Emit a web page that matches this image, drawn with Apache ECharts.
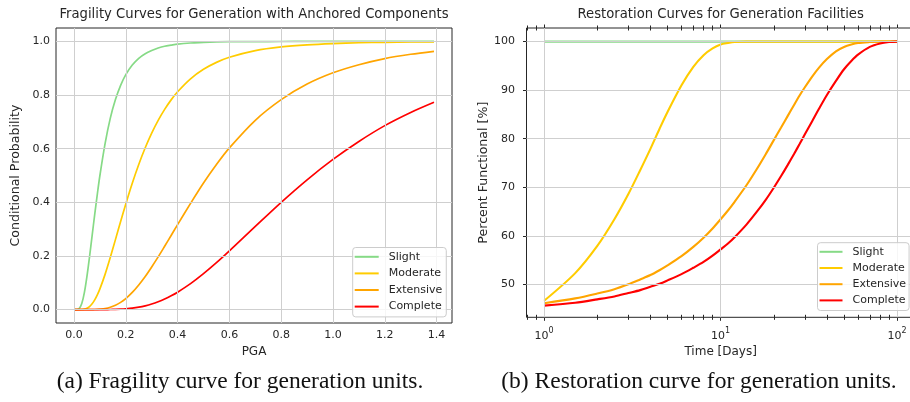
<!DOCTYPE html>
<html>
<head>
<meta charset="utf-8">
<script src="https://cdn.jsdelivr.net/npm/echarts@6/dist/echarts.min.js"></script>
<style>
  html, body { margin: 0; padding: 0; background: #ffffff; }
  #chart { width: 910px; height: 402px; }
</style>
</head>
<body>
<div id="chart"></div>
<script>
// Fragility of generation facilities with anchored components:
// probability of reaching each damage state against peak ground acceleration (g).
const pga = [0, 0.01, 0.02, 0.03, 0.04, 0.05, 0.06, 0.07, 0.08, 0.09, 0.10, 0.12, 0.14, 0.16, 0.18, 0.20,
  0.225, 0.25, 0.275, 0.30, 0.325, 0.35, 0.375, 0.40, 0.45, 0.50, 0.55, 0.60, 0.70, 0.80, 0.90, 1.00, 1.10, 1.20, 1.30, 1.39];
const slightProb = [0, 0.0001, 0.0037, 0.0224, 0.0634, 0.124, 0.197, 0.276, 0.355, 0.430, 0.500, 0.619, 0.713, 0.783, 0.836, 0.876,
  0.9117, 0.937, 0.9541, 0.966, 0.9753, 0.982, 0.9862, 0.990, 0.994, 0.996, 0.998, 0.999, 0.9994, 0.9997, 0.9999, 1.000, 1.000, 1.000, 1.000, 1.000];
const moderateProb = [0, 0, 0, 0.0003, 0.0016, 0.0050, 0.0114, 0.0218, 0.0363, 0.0549, 0.0772, 0.1313, 0.1940, 0.2609, 0.3284, 0.3941,
  0.4711, 0.5411, 0.6033, 0.6580, 0.7056, 0.7466, 0.7820, 0.8123, 0.8606, 0.8959, 0.9218, 0.9409, 0.9656, 0.9794, 0.9874, 0.9921, 0.9950, 0.9967, 0.9978, 0.9985];
const extensiveProb = [0, 0, 0, 0, 0, 0, 0, 0.0001, 0.0003, 0.0007, 0.0014, 0.0038, 0.0085, 0.0161, 0.0269, 0.0411,
  0.0639, 0.0916, 0.1234, 0.159, 0.1964, 0.236, 0.2762, 0.317, 0.396, 0.472, 0.541, 0.603, 0.706, 0.783, 0.841, 0.883, 0.913, 0.936, 0.952, 0.963];
const completeProb = [0, 0, 0, 0, 0, 0, 0, 0, 0, 0, 0, 0.0001, 0.0003, 0.0007, 0.0015, 0.0028,
  0.0052, 0.0089, 0.0141, 0.0208, 0.0293, 0.0395, 0.0514, 0.065, 0.0968, 0.134, 0.175, 0.219, 0.310, 0.400, 0.484, 0.560, 0.627, 0.686, 0.735, 0.773];

// Restoration of generation facilities: percent functional against days after the event.
const days = [1, 1.5, 2, 2.5, 3, 3.5, 4, 4.5, 5, 6, 7, 8, 9, 10, 11, 12, 14, 16, 18, 20,
  22, 24, 26, 28, 30, 33, 36, 40, 45, 50, 55, 60, 70, 80, 90, 100];
const slightPct = [100, 100, 100, 100, 100, 100, 100, 100, 100, 100, 100, 100, 100, 100, 100, 100, 100, 100, 100, 100,
  100, 100, 100, 100, 100, 100, 100, 100, 100, 100, 100, 100, 100, 100, 100, 100];
const moderatePct = [46.6, 52.3, 57.9, 63.4, 68.6, 73.5, 77.9, 82.0, 85.5, 91.0, 94.8, 97.2, 98.6, 99.4, 99.7, 99.9, 100, 100, 100, 100,
  100, 100, 100, 100, 100, 100, 100, 100, 100, 100, 100, 100, 100, 100, 100, 100];
const extensivePct = [46.1, 47.1, 48.1, 49.0, 50.0, 51.0, 51.9, 52.9, 53.9, 55.8, 57.7, 59.6, 61.5, 63.4, 65.2, 67.0, 70.4, 73.7, 76.8, 79.7,
  82.3, 84.7, 86.9, 88.9, 90.6, 92.8, 94.6, 96.4, 98.0, 98.9, 99.4, 99.7, 99.9, 100, 100, 100];
const completePct = [45.6, 46.2, 46.9, 47.5, 48.2, 48.8, 49.5, 50.1, 50.8, 52.1, 53.4, 54.6, 55.9, 57.2, 58.4, 59.7, 62.3, 64.9, 67.4, 69.9,
  72.3, 74.6, 76.8, 78.9, 80.9, 83.6, 86.1, 89.0, 91.9, 94.3, 96.0, 97.3, 98.9, 99.6, 99.9, 100];

const damageStates = ['Slight', 'Moderate', 'Extensive', 'Complete'];
const stateColors = ['#86da86', '#ffcc00', '#ffa500', '#ff0000'];

// Tick positions and labels
const pgaTicks = [0, 0.2, 0.4, 0.6, 0.8, 1.0, 1.2, 1.4];
const probTicks = [0, 0.2, 0.4, 0.6, 0.8, 1.0];
const dayTicks = [1, 10, 100];
const dayTickExponents = ['0', '1', '2'];
const dayMinorTicks = [0.8, 0.9, 2, 3, 4, 5, 6, 7, 8, 9, 20, 30, 40, 50, 60, 70, 80, 90];
const pctTicks = [50, 60, 70, 80, 90, 100];

const FONT = 'DejaVu Sans';
const INK = '#262626';
const GRID_LINE = '#cfcfcf';

// Axis ranges (5% padding around the data)
const PGA_MIN = -0.0695, PGA_MAX = 1.4595;
const PROB_MIN = -0.05, PROB_MAX = 1.05;
const DAY_MIN = 0.7943, DAY_MAX = 125.89;
const PCT_MIN = 43.2, PCT_MAX = 102.8;

const tickText = { fontFamily: FONT, fontSize: 11, color: INK };
const xNameText = { fontFamily: FONT, fontSize: 12, color: INK };
const yNameText = { fontFamily: FONT, fontSize: 12.6, color: INK };

function pairs(xs, ys) { return xs.map((x, i) => [x, ys[i]]); }

// Log axes that only carry tick marks, so ticks can cross the spine in and out
function dayTickAxis(position, values, length, inside) {
  return {
    type: 'log', logBase: 10, gridIndex: 1, min: DAY_MIN, max: DAY_MAX, position,
    axisLine: { show: false }, splitLine: { show: false }, axisLabel: { show: false },
    minorTick: { show: false }, minorSplitLine: { show: false },
    axisTick: { show: true, inside, length, customValues: values, lineStyle: { color: INK, width: 1 } }
  };
}

function decadeLabel(v) {
  let best = 0;
  dayTicks.forEach((t, i) => {
    if (Math.abs(Math.log10(t / v)) < Math.abs(Math.log10(dayTicks[best] / v))) best = i;
  });
  return '{b|10}{s|' + dayTickExponents[best] + '}';
}

const fragility = [slightProb, moderateProb, extensiveProb, completeProb];
const restoration = [slightPct, moderatePct, extensivePct, completePct];

const chart = echarts.init(document.getElementById('chart'), null, { renderer: 'canvas' });

const gridBase = { show: true, borderColor: INK, borderWidth: 1, backgroundColor: 'transparent',
  containLabel: false, outerBoundsMode: 'none' };

const legendBase = {
  data: damageStates, orient: 'vertical', z: 20,
  icon: 'rect', itemHeight: 2, itemGap: 0, selectedMode: false,
  backgroundColor: 'rgba(255,255,255,0.8)', borderColor: '#cccccc', borderWidth: 1, borderRadius: 3
};

const option = {
  animation: false,
  backgroundColor: '#ffffff',
  grid: [
    Object.assign({ left: 56, top: 28, width: 396, height: 295 }, gridBase),
    Object.assign({ left: 526.5, top: 28, width: 388.3, height: 289.3 }, gridBase)
  ],
  xAxis: [
    {
      type: 'value', gridIndex: 0, min: PGA_MIN, max: PGA_MAX,
      axisLine: { show: false }, splitLine: { show: false },
      axisTick: { show: true, length: 4, customValues: pgaTicks, lineStyle: { color: INK, width: 1 } },
      axisLabel: Object.assign({ customValues: pgaTicks, margin: 7, formatter: v => v.toFixed(1) }, tickText),
      name: 'PGA', nameLocation: 'middle', nameGap: 21.5, nameTextStyle: xNameText
    },
    {
      type: 'log', logBase: 10, gridIndex: 1, min: DAY_MIN, max: DAY_MAX, position: 'bottom',
      axisLine: { show: false }, splitLine: { show: false },
      minorTick: { show: false }, minorSplitLine: { show: false },
      axisTick: { show: true, length: 3.5, customValues: dayTicks, lineStyle: { color: INK, width: 1 } },
      axisLabel: {
        customValues: dayTicks, margin: 11, formatter: decadeLabel,
        rich: {
          b: { fontFamily: FONT, fontSize: 11, color: INK, lineHeight: 13, verticalAlign: 'bottom' },
          s: { fontFamily: FONT, fontSize: 8, color: INK, lineHeight: 9, padding: [0, 0, 6, 0], verticalAlign: 'bottom' }
        }
      },
      name: 'Time [Days]', nameLocation: 'middle', nameGap: 27.5, nameTextStyle: xNameText
    },
    dayTickAxis('bottom', dayTicks, 3.5, true),
    dayTickAxis('bottom', dayMinorTicks, 2.5, false),
    dayTickAxis('bottom', dayMinorTicks, 2.5, true),
    dayTickAxis('top', dayTicks, 3.5, false),
    dayTickAxis('top', dayTicks, 3.5, true),
    dayTickAxis('top', dayMinorTicks, 2.5, false),
    dayTickAxis('top', dayMinorTicks, 2.5, true)
  ],
  yAxis: [
    {
      type: 'value', gridIndex: 0, min: PROB_MIN, max: PROB_MAX,
      axisLine: { show: false }, splitLine: { show: false },
      axisTick: { show: true, length: 4, customValues: probTicks, lineStyle: { color: INK, width: 1 } },
      axisLabel: Object.assign({ customValues: probTicks, margin: 6, formatter: v => v.toFixed(1) }, tickText),
      name: 'Conditional Probability', nameLocation: 'middle', nameGap: 33.7, nameTextStyle: yNameText
    },
    {
      type: 'value', gridIndex: 1, min: PCT_MIN, max: PCT_MAX,
      axisLine: { show: false }, splitLine: { show: false },
      axisTick: { show: true, length: 3.5, customValues: pctTicks, lineStyle: { color: INK, width: 1 } },
      axisLabel: Object.assign({ customValues: pctTicks, margin: 11.5, formatter: v => String(Math.round(v)) }, tickText),
      name: 'Percent Functional [%]', nameLocation: 'middle', nameGap: 35.7, nameTextStyle: yNameText
    },
    {
      type: 'value', gridIndex: 1, min: PCT_MIN, max: PCT_MAX,
      axisLine: { show: false }, splitLine: { show: false }, axisLabel: { show: false },
      axisTick: { show: true, inside: true, length: 3.5, customValues: pctTicks, lineStyle: { color: INK, width: 1 } }
    }
  ],
  legend: [
    Object.assign({}, legendBase, {
      left: 352.7, top: 247.5, itemWidth: 24, padding: [1, 4, 2, 2],
      textStyle: { fontFamily: FONT, fontSize: 11, color: INK, lineHeight: 16.6, padding: [0, 0, 0, 5] }
    }),
    Object.assign({}, legendBase, {
      left: 817.5, top: 242.7, itemWidth: 23, padding: [1, 3, 2, 2],
      textStyle: { fontFamily: FONT, fontSize: 11, color: INK, lineHeight: 16.2, padding: [0, 0, 0, 5] }
    })
  ],
  graphic: [
    { type: 'text', x: 254, y: 15, silent: true,
      style: { text: 'Fragility Curves for Generation with Anchored Components', fontFamily: FONT, fontSize: 13.2,
        fill: INK, align: 'center', verticalAlign: 'middle' } },
    { type: 'text', x: 720.7, y: 15, silent: true,
      style: { text: 'Restoration Curves for Generation Facilities', fontFamily: FONT, fontSize: 13.2,
        fill: INK, align: 'center', verticalAlign: 'middle' } },
    { type: 'text', x: 240, y: 382, silent: true,
      style: { text: '(a) Fragility curve for generation units.', fontFamily: 'Liberation Serif', fontSize: 23.5,
        fill: '#111', align: 'center', verticalAlign: 'middle' } },
    { type: 'text', x: 699, y: 382, silent: true,
      style: { text: '(b) Restoration curve for generation units.', fontFamily: 'Liberation Serif', fontSize: 23.5,
        fill: '#111', align: 'center', verticalAlign: 'middle' } }
  ],
  series: [
    // Background grid lines for both panels
    {
      type: 'line', xAxisIndex: 0, yAxisIndex: 0, data: [], silent: true, z: 1,
      markLine: {
        silent: true, symbol: ['none', 'none'], label: { show: false }, animation: false,
        lineStyle: { color: GRID_LINE, width: 1, type: 'solid' }, emphasis: { disabled: true },
        data: pgaTicks.map(v => ({ xAxis: v })).concat(probTicks.map(v => ({ yAxis: v })))
      }
    },
    {
      type: 'line', xAxisIndex: 1, yAxisIndex: 1, data: [], silent: true, z: 1,
      markLine: {
        silent: true, symbol: ['none', 'none'], label: { show: false }, animation: false,
        lineStyle: { color: GRID_LINE, width: 1, type: 'solid' }, emphasis: { disabled: true },
        data: dayTicks.map(v => ({ xAxis: v })).concat(pctTicks.map(v => ({ yAxis: v })))
      }
    }
  ]
    .concat(damageStates.map((name, i) => ({
      type: 'line', name, xAxisIndex: 0, yAxisIndex: 0, z: 3,
      data: pairs(pga, fragility[i]), symbol: 'none', showSymbol: false, smooth: 0.3, silent: true,
      color: stateColors[i], lineStyle: { color: stateColors[i], width: 1.7 }, emphasis: { disabled: true }
    })))
    .concat(damageStates.map((name, i) => ({
      type: 'line', name, xAxisIndex: 1, yAxisIndex: 1, z: 3,
      data: pairs(days, restoration[i]), symbol: 'none', showSymbol: false, smooth: 0.3, silent: true,
      color: stateColors[i], lineStyle: { color: stateColors[i], width: 2.1 }, emphasis: { disabled: true }
    })))
};

chart.setOption(option);
</script>
</body>
</html>
